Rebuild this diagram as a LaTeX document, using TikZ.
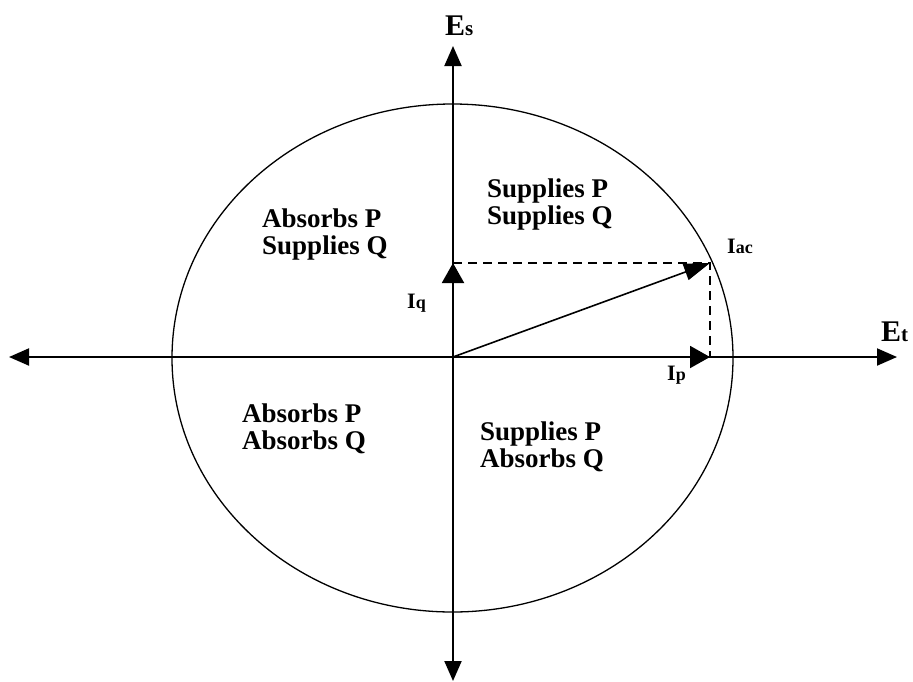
\documentclass[tikz,border=0pt]{standalone}
\usepackage{fontspec}
\setmainfont{Liberation Serif}
\usetikzlibrary{arrows.meta}
\newcommand{\mysub}[1]{{\fontsize{18}{18}\selectfont #1}}
\newcommand{\bigsub}[1]{{\fontsize{21}{21}\selectfont #1}}
\begin{document}
\begin{tikzpicture}[x=1pt,y=-1pt,
  axis/.style={line width=2pt,-{Triangle[length=20pt,width=17pt]}},
  comp/.style={line width=2pt,-{Triangle[length=20pt,width=22pt]}},
  dsh/.style={line width=2pt,dash pattern=on 9pt off 6pt},
  region/.style={font=\fontsize{27}{27}\selectfont\bfseries,align=left,inner sep=0pt,anchor=north west},
  elbl/.style={font=\fontsize{30}{30}\selectfont\bfseries,inner sep=0pt,anchor=base west},
  lbl/.style={font=\fontsize{22}{22}\selectfont\bfseries,inner sep=0pt,anchor=base west}]
\useasboundingbox (0,0) rectangle (913,681);
\coordinate (O) at (453,357);
\coordinate (L) at (9,357);
\coordinate (R) at (897,357);
\coordinate (T) at (453,46);
\coordinate (B) at (453,681);
\coordinate (A) at (710,263);
\coordinate (Q) at (453,263);
\coordinate (P) at (710,357);
\draw[line width=1.3pt] (452.5,358) ellipse [x radius=280.5, y radius=254];
\draw[axis] (O) -- (L);
\draw[axis] (O) -- (R);
\draw[axis] (O) -- (T);
\draw[axis] (O) -- (B);
\draw[dsh] (Q) -- (A) -- (P);
\draw[comp] (O) -- (Q);
\draw[comp] (O) -- (P);
\draw[line width=1.6pt,-{Triangle[length=26pt,width=17pt]}] (O) -- (A);
\node[elbl] (es) at (445,35) {E\bigsub{s}};
\node[elbl] (et) at (881,341) {E\bigsub{t}};
\node[lbl] (iac) at (727,253) {I\mysub{ac}};
\node[lbl] (iq) at (407,308) {I\mysub{q}};
\node[lbl] (ip) at (667,380) {I\mysub{p}};
\node[region] (r1) at (487,179) {Supplies P\\Supplies Q};
\node[region] (r2) at (262,209) {Absorbs P\\Supplies Q};
\node[region] (r3) at (242,404) {Absorbs P\\Absorbs Q};
\node[region] (r4) at (480,422) {Supplies P\\Absorbs Q};
\end{tikzpicture}
\end{document}
